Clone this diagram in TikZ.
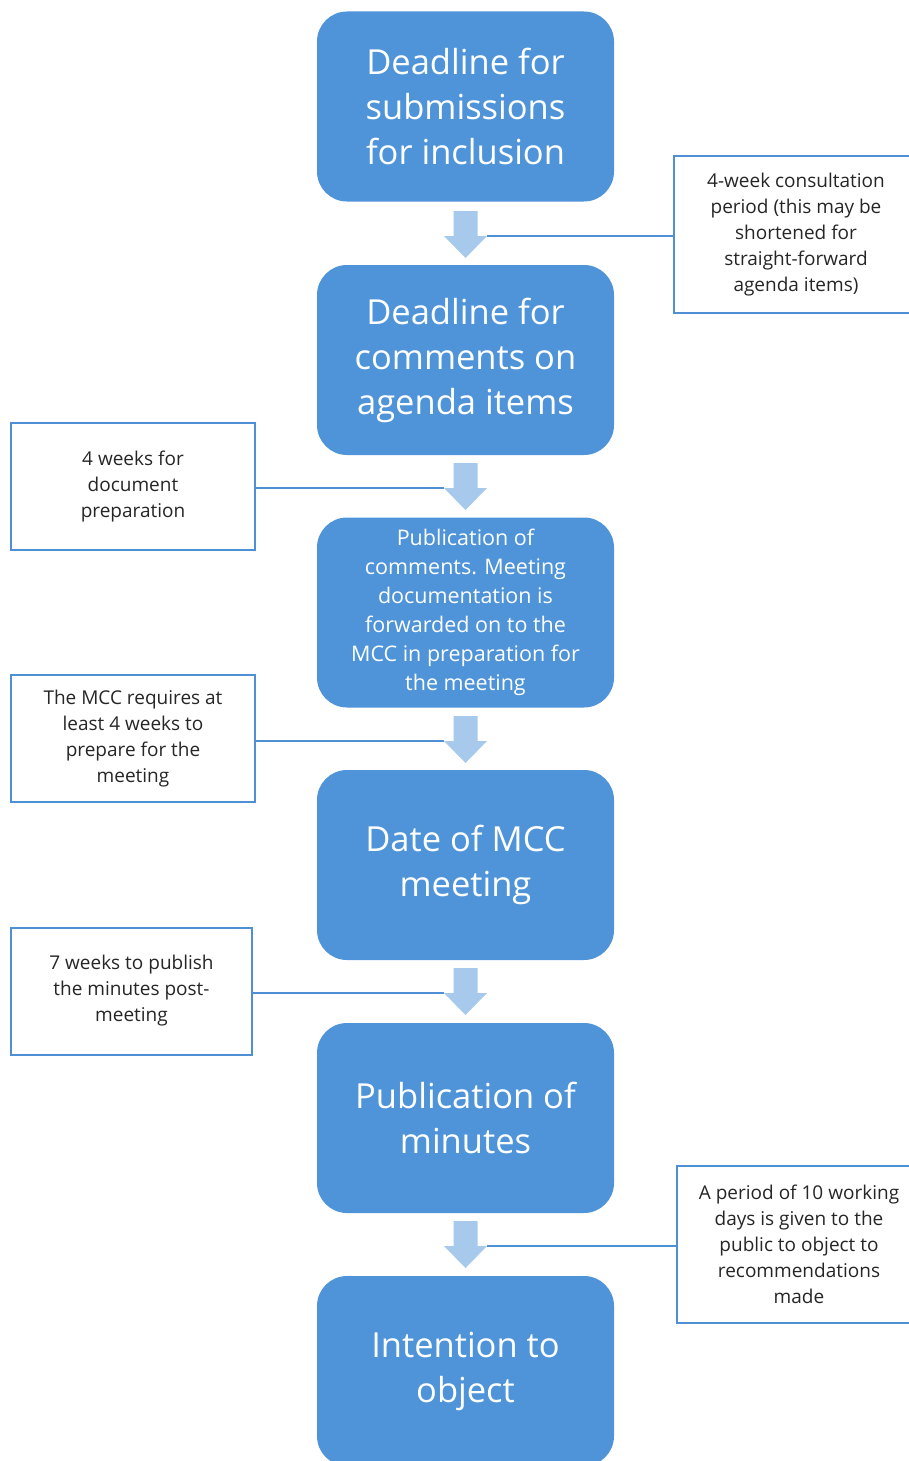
\documentclass[tikz,border=0pt]{standalone}
\usepackage{fontspec}
\setmainfont{Open Sans}
\usetikzlibrary{positioning}

\definecolor{stageblue}{HTML}{4F94D8}
\definecolor{arrowblue}{HTML}{A6C9EC}
\definecolor{noteblue}{HTML}{4E8FD6}
\definecolor{notetext}{HTML}{262626}

\tikzset{
	stage/.style = {fill = stageblue, rounded corners = 30pt, minimum width = 297pt, minimum height = 190pt, text = white, align = center, inner sep = 0pt, font = \fontsize{34.5}{45}\selectfont},
	stagesmall/.style = {stage, font = \fontsize{21.5}{29}\selectfont},
	note/.style = {draw = noteblue, line width = 2pt, fill = white, minimum width = 244pt, minimum height = 127pt, text = notetext, align = center, inner sep = 0pt, font = \fontsize{19}{26}\selectfont},
	notetall/.style = {note, minimum height = 157pt},
	link/.style = {noteblue, line width = 2pt}
}

\begin{document}
\begin{tikzpicture}[x = 1pt, y = -1pt]
	\useasboundingbox (0, 0) rectangle (908, 1461);
	% stages
	\node[stage] (deadline) at (465.5, 106.5) {Deadline for\\submissions\\for inclusion};
	\node[stage] (comments) at (465.5, 360) {Deadline for\\comments on\\agenda items};
	\node[stagesmall] (publication) at (465.5, 612.5) {Publication of\\comments. Meeting\\documentation is\\forwarded on to the\\MCC in preparation for\\the meeting};
	\node[stage] (meeting) at (465.5, 865) {Date of MCC\\meeting};
	\node[stage] (minutes) at (465.5, 1118) {Publication of\\minutes};
	\node[stage] (objection) at (465.5, 1371) {Intention to\\object};
	% block arrows between stages, head corners named
	\foreach \i/\y in {1/211, 2/463, 3/716, 4/968, 5/1221} {
		\fill[arrowblue] (453.5, \y) -- (477.5, \y) -- (477.5, \y + 25) -- (487, \y + 25) -- (465.5, \y + 47) -- (444, \y + 25) -- (453.5, \y + 25) -- cycle;
		\coordinate (arrowleft\i) at (444, \y + 25);
		\coordinate (arrowright\i) at (487, \y + 25);
	}
	% notes
	\node[notetall] (consultation) at (796, 234.5) {4-week consultation\\period (this may be\\shortened for\\straight-forward\\agenda items)};
	\node[note] (preparation) at (133, 486.5) {4 weeks for\\document\\preparation};
	\node[note] (mccprep) at (133, 738.5) {The MCC requires at\\least 4 weeks to\\prepare for the\\meeting};
	\node[note, minimum width = 241pt] (publish) at (131.5, 991) {7 weeks to publish\\the minutes post-\\meeting};
	\node[notetall] (objectperiod) at (799, 1244.5) {A period of 10 working\\days is given to the\\public to object to\\recommendations\\made};
	% note links
	\draw[link] (consultation.west |- arrowright1) -- (arrowright1);
	\draw[link] (preparation.east |- arrowleft2) -- (arrowleft2);
	\draw[link] (mccprep.east |- arrowleft3) -- (arrowleft3);
	\draw[link] (publish.east |- arrowleft4) -- (arrowleft4);
	\draw[link] (objectperiod.west |- arrowright5) -- (arrowright5);
\end{tikzpicture}
\end{document}
